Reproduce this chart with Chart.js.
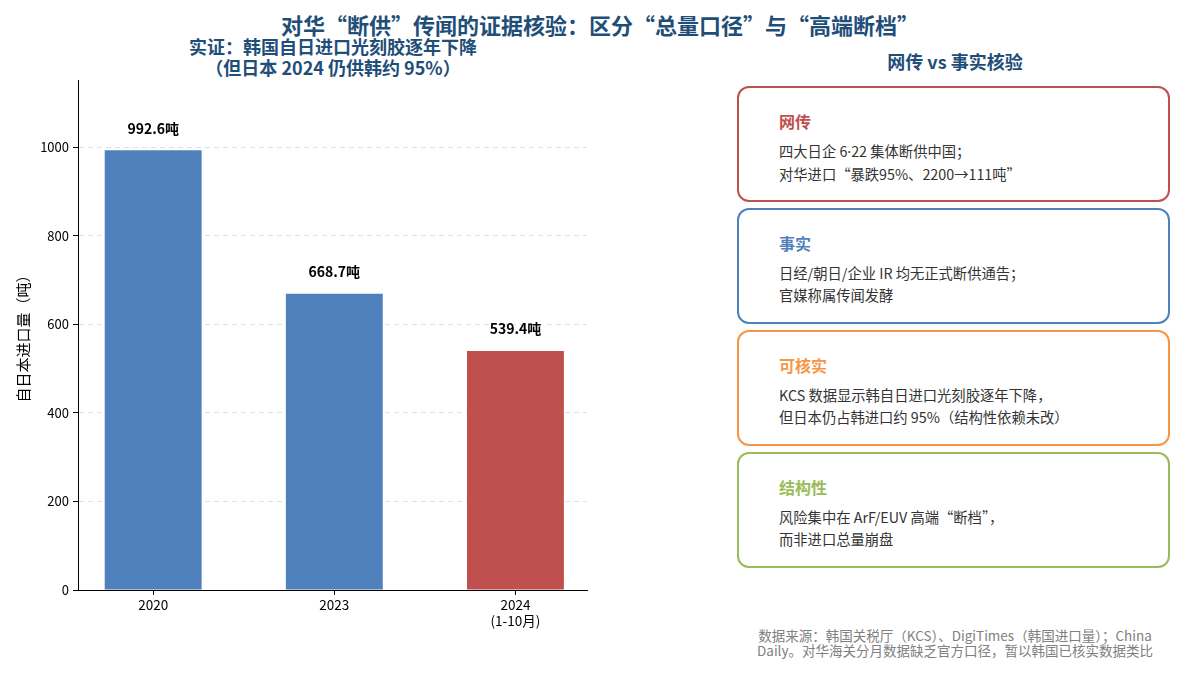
<!DOCTYPE html>
<html><head><meta charset="utf-8">
<script src="https://cdn.jsdelivr.net/npm/chart.js@4"></script>
<style>
html,body{margin:0;padding:0;background:#fff;}
body{width:1200px;height:675px;position:relative;overflow:hidden;font-family:"Noto Sans CJK SC","Noto Sans",sans-serif;}
#wrap{position:absolute;left:0;top:0;width:600px;height:675px;}
.t{position:absolute;color:#1F4E79;font-weight:bold;text-align:center;white-space:nowrap;}
.card{position:absolute;left:737px;width:429px;height:112px;border:2.5px solid;border-radius:12px;box-sizing:content-box;}
.card .h{position:absolute;left:40px;top:22px;font-size:16px;font-weight:bold;line-height:22px;}
.card .b{position:absolute;left:40px;top:52px;font-size:14.3px;line-height:22px;color:#333;white-space:nowrap;}
.dot{font-family:"Noto Sans","DejaVu Sans",sans-serif;}
#foot{position:absolute;left:705px;width:500px;top:628px;font-size:13.5px;line-height:15px;color:#808080;text-align:center;white-space:nowrap;}
</style></head>
<body>
<div class="t" style="left:0;width:1200px;top:9px;font-size:22px;line-height:30px;">对华“断供”传闻的证据核验：区分“总量口径”与“高端断档”</div>
<div class="t" style="left:133px;width:400px;top:36px;font-size:18px;line-height:21px;">实证：韩国自日进口光刻胶逐年下降<br>（但日本 2024 仍供韩约 95%）</div>
<div class="t" style="left:755px;width:400px;top:49px;font-size:18px;line-height:24px;">网传 vs 事实核验</div>
<div id="wrap"><canvas id="c" width="600" height="675"></canvas></div>
<div id="cards"></div>
<div id="foot">数据来源：韩国关税厅（KCS）、DigiTimes（韩国进口量）；China<br>Daily。对华海关分月数据缺乏官方口径，暂以韩国已核实数据类比</div>
<script>
const categories = ["2020", "2023", ["2024", "(1-10月)"]];
const values = [992.6, 668.7, 539.4];
const barColors = ["#4F81BD", "#4F81BD", "#C0504D"];
const valueLabels = ["992.6吨", "668.7吨", "539.4吨"];
const yTicks = [0, 200, 400, 600, 800, 1000];
const yTitle = "自日本进口量（吨）";

const cardTitles = ["网传", "事实", "可核实", "结构性"];
const cardColors = ["#C0504D", "#4F81BD", "#F79646", "#9BBB59"];
const cardLines = [
  ["四大日企 6·22 集体断供中国；", "对华进口“暴跌95%、2200→111吨”"],
  ["日经/朝日/企业 IR 均无正式断供通告；", "官媒称属传闻发酵"],
  ["KCS 数据显示韩自日进口光刻胶逐年下降，", "但日本仍占韩进口约 95%（结构性依赖未改）"],
  ["风险集中在 ArF/EUV 高端“断档”，", "而非进口总量崩盘"]
];
const cardTops = [86, 208, 330, 452];

function esc(s) {
  return s.replace(/&/g, '&amp;').replace(/</g, '&lt;').replace(/·/g, '<span class="dot">·</span>');
}
const cardsEl = document.getElementById('cards');
cardTitles.forEach((t, i) => {
  const d = document.createElement('div');
  d.className = 'card';
  d.style.top = cardTops[i] + 'px';
  d.style.borderColor = cardColors[i];
  d.innerHTML = '<div class="h" style="color:' + cardColors[i] + '">' + t + '</div><div class="b">' + cardLines[i].map(esc).join('<br>') + '</div>';
  cardsEl.appendChild(d);
});

const FONT = '"Noto Sans CJK SC","Noto Sans",sans-serif';
const labelPlugin = {
  id: 'vlabels',
  afterDatasetsDraw(chart) {
    const ctx = chart.ctx;
    const meta = chart.getDatasetMeta(0);
    ctx.save();
    ctx.font = 'bold 14px ' + FONT;
    ctx.fillStyle = '#000';
    ctx.textAlign = 'center';
    ctx.textBaseline = 'middle';
    meta.data.forEach((el, i) => {
      ctx.fillText(valueLabels[i], el.x, el.y - 22);
    });
    ctx.restore();
  }
};

new Chart(document.getElementById('c'), {
  type: 'bar',
  data: {
    datasets: [{
      data: values.map((v, i) => ({x: i, y: v})),
      backgroundColor: barColors,
      borderWidth: 0,
      categoryPercentage: 0.535,
      barPercentage: 1.0
    }]
  },
  options: {
    responsive: false,
    animation: false,
    devicePixelRatio: 1,
    layout: {padding: {left: 10, top: 80, right: 13, bottom: 0}},
    plugins: {legend: {display: false}, tooltip: {enabled: false}},
    scales: {
      x: {
        type: 'linear',
        min: -0.415, max: 2.395,
        offset: false,
        afterFit(s) { s.height = 85; },
        ticks: {
          stepSize: 1, includeBounds: false, autoSkip: false, maxRotation: 0,
          color: '#000', font: {family: FONT, size: 13.5}, padding: 2,
          callback: (v) => Number.isInteger(v) ? categories[v] : ''
        },
        grid: {offset: false, drawOnChartArea: false, drawTicks: true, tickLength: 5, tickColor: '#000', tickWidth: 1},
        border: {display: true, color: '#000', width: 1}
      },
      y: {
        min: 0, max: 1151.4,
        afterFit(s) { s.width = 68; },
        afterBuildTicks(s) { s.ticks = yTicks.map(v => ({value: v})); },
        ticks: {color: '#000', font: {family: FONT, size: 13}, padding: 4, includeBounds: false, callback: (v) => String(v)},
        grid: {color: '#dde1e6', lineWidth: 1, drawTicks: true, tickLength: 5, tickColor: '#000', tickWidth: 1, tickBorderDash: []},
        border: {display: true, color: '#000', width: 1, dash: [5, 4]},
        title: {display: true, text: yTitle, color: '#000', font: {family: FONT, size: 15}, padding: {top: 4, bottom: 4}}
      }
    }
  },
  plugins: [labelPlugin]
});
</script>
</body></html>
